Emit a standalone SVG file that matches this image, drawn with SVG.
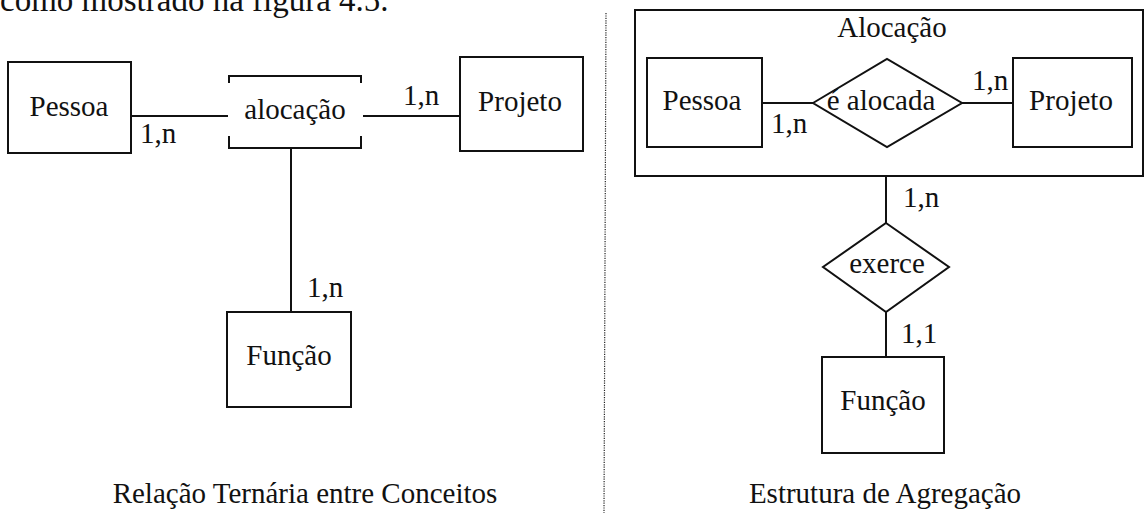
<svg xmlns="http://www.w3.org/2000/svg" width="1145" height="513" viewBox="0 0 1145 513">
<style>
text{font-family:"Liberation Serif","Times New Roman",serif;font-size:29px;fill:#111}
.c{text-anchor:middle}
.box{fill:#fff;stroke:#111;stroke-width:2}
.ln{fill:none;stroke:#111;stroke-width:2}
.dot{fill:none;stroke:#222;stroke-width:1.2;stroke-dasharray:1.2 1.2}
</style>
<rect width="1145" height="513" fill="#fff"/>
<text x="0" y="11" style="font-size:33px">como mostrado na figura 4.5.</text>
<line class="dot" x1="606" y1="13" x2="604" y2="513"/>
<g id="connectors">
<line class="ln" x1="131" y1="116" x2="228" y2="116"/>
<line class="ln" x1="363" y1="116" x2="460" y2="116"/>
<line class="ln" x1="291" y1="148" x2="291" y2="312"/>
<line class="ln" x1="762" y1="103" x2="813" y2="103"/>
<line class="ln" x1="962" y1="103" x2="1013" y2="103"/>
<line class="ln" x1="886" y1="176" x2="886" y2="223"/>
<line class="ln" x1="886" y1="312" x2="886" y2="357"/>
<text x="140" y="143">1,n</text>
<text x="403" y="105">1,n</text>
<text x="307" y="297">1,n</text>
<text x="771" y="133">1,n</text>
<text x="972" y="90">1,n</text>
<text x="903" y="207">1,n</text>
<text x="901" y="343">1,1</text>
</g>
<g id="pessoa-left"><rect class="box" x="8" y="62" width="123" height="91"/><text class="c" x="69" y="116">Pessoa</text></g>
<g id="alocacao-left"><path class="ln" d="M229,83 V76 H361 V83 M229,136 V148 H361 V136"/><text class="c" x="295" y="119">alocação</text></g>
<g id="projeto-left"><rect class="box" x="460" y="57" width="123" height="94"/><text class="c" x="520" y="111">Projeto</text></g>
<g id="funcao-left"><rect class="box" x="227" y="312" width="124" height="95"/><text class="c" x="289" y="365">Função</text></g>
<g id="alocacao-agg"><rect class="ln" x="635" y="10" width="508" height="166"/><text class="c" x="892" y="37">Alocação</text></g>
<g id="pessoa-right"><rect class="box" x="647" y="58" width="115" height="89"/><text class="c" x="702" y="110">Pessoa</text></g>
<g id="e-alocada"><polygon class="box" points="813,103 887,59 962,103 887,147"/><text class="c" x="881" y="110">é alocada</text></g>
<g id="projeto-right"><rect class="box" x="1013" y="58" width="119" height="89"/><text class="c" x="1071" y="110">Projeto</text></g>
<g id="exerce"><polygon class="box" points="886,223 949,267 886,312 823,267"/><text class="c" x="887" y="273">exerce</text></g>
<g id="funcao-right"><rect class="box" x="822" y="357" width="122" height="96"/><text class="c" x="883" y="410">Função</text></g>
<text class="c" x="305" y="503">Relação Ternária entre Conceitos</text>
<text class="c" x="885" y="503">Estrutura de Agregação</text>
</svg>
